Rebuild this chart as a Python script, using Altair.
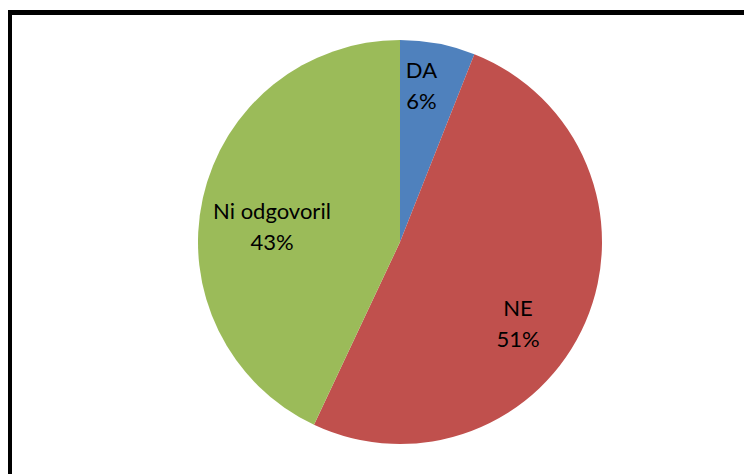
import altair as alt
import pandas as pd

categories = ["DA", "NE", "Ni odgovoril"]
values = [6, 51, 43]
colors = ["#4F81BD", "#C0504D", "#9BBB59"]

df = pd.DataFrame({
    "cat": categories,
    "value": values,
    "idx": list(range(len(categories))),
})

CX, CY, R = 392, 234, 202

base = alt.Chart(df)

color_scale = alt.Scale(domain=categories, range=colors)

arcs = base.mark_arc(radius=R, stroke=None).encode(
    theta=alt.Theta("value:Q", stack=True, scale=alt.Scale(domain=[0, 100])),
    color=alt.Color("cat:N", scale=color_scale, legend=None),
    order=alt.Order("idx:Q"),
    x=alt.value(CX),
    y=alt.value(CY),
)

lab = (
    base.transform_window(cum="sum(value)", sort=[alt.SortField("idx")])
    .transform_calculate(
        mid="datum.cum - datum.value / 2",
        label="datum.cat + '\\n' + datum.value + '%'",
    )
)

label_style = {
    "DA": dict(radius=157, dx=-8, dy=-17),
    "NE": dict(radius=145, dx=-15, dy=9),
    "Ni odgovoril": dict(radius=123, dx=-8, dy=-3),
}

texts = []
for c in categories:
    st = label_style[c]
    t = (
        lab.transform_filter(alt.datum.cat == c)
        .mark_text(
            font="Lato", fontSize=22, color="#000000", lineBreak="\n",
            lineHeight=31, align="center", baseline="middle", **st,
        )
        .encode(
            theta=alt.Theta("mid:Q", stack=None, scale=alt.Scale(domain=[0, 100])),
            text="label:N",
            x=alt.value(CX),
            y=alt.value(CY),
        )
    )
    texts.append(t)

top_border = base.mark_rule(color="black", strokeWidth=5).encode(
    x=alt.value(-1), x2=alt.value(760), y=alt.value(4.5)
)
left_border = base.mark_rule(color="black", strokeWidth=5).encode(
    x=alt.value(1.5), y=alt.value(2), y2=alt.value(480)
)

chart = (
    alt.layer(arcs, *texts, top_border, left_border)
    .properties(width=736, height=466, padding=0, autosize="none")
    .configure_view(stroke=None)
)

chart.save("out.html", embed_options={"renderer": "svg", "actions": False})
